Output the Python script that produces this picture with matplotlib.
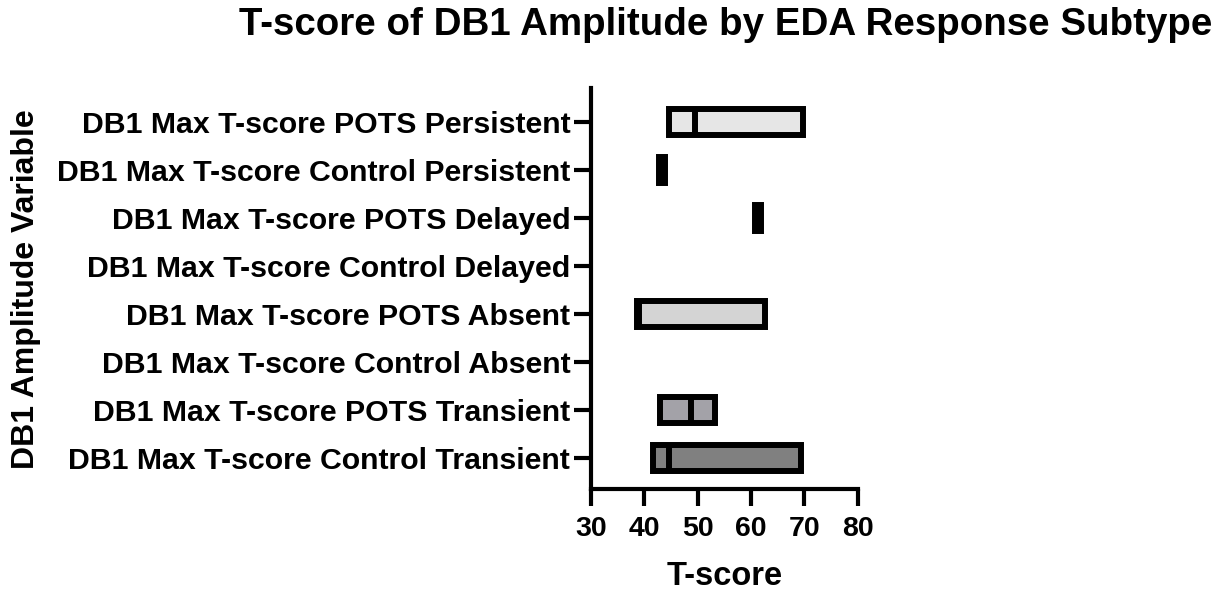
import numpy as np
import matplotlib
matplotlib.use('Agg')
from matplotlib import pyplot as plt

plt.rcParams['font.family'] = ['Liberation Sans', 'DejaVu Sans']
plt.rcParams['font.weight'] = 'bold'

# rows listed bottom to top
labels = [
    'DB1 Max T-score Control Transient',
    'DB1 Max T-score POTS Transient',
    'DB1 Max T-score Control Absent',
    'DB1 Max T-score POTS Absent',
    'DB1 Max T-score Control Delayed',
    'DB1 Max T-score POTS Delayed',
    'DB1 Max T-score Control Persistent',
    'DB1 Max T-score POTS Persistent',
]
t_min = [41.7, 42.9, np.nan, 38.7, np.nan, 60.8, 42.8, 44.7]
t_max = [69.3, 53.3, np.nan, 62.6, np.nan, 61.9, 43.9, 69.7]
t_med = [44.7, 48.8, np.nan, 39.0, np.nan, 61.3, 43.3, 49.5]
fills = ['#808080', '#a3a2a8', 'white', '#d4d4d4', 'white', '#e6e6e6', '#e6e6e6', '#e6e6e6']

fig = plt.figure(figsize=(12.24, 5.92), dpi=100)
ax = fig.add_axes([0.4829, 0.1735, 0.7007 - 0.4829, 0.8519 - 0.1735])

h = 0.54
lw = 4.3
y = np.arange(len(labels))
for i in range(len(labels)):
    if np.isnan(t_min[i]):
        continue
    ax.barh(y[i], t_max[i] - t_min[i], left=t_min[i], height=h,
            color=fills[i], edgecolor='black', linewidth=lw, clip_on=False)
    ax.plot([t_med[i], t_med[i]], [y[i] - h / 2, y[i] + h / 2],
            color='black', lw=lw, solid_capstyle='butt', clip_on=False)

ax.set_xlim(30, 80)
ax.set_ylim(-0.66, 7.71)
ax.set_xticks(np.arange(30, 81, 10))
ax.set_yticks(y)
ax.set_yticklabels(labels, fontsize=21.8)

for s in ['top', 'right']:
    ax.spines[s].set_visible(False)
for s in ['left', 'bottom']:
    ax.spines[s].set_linewidth(3)
ax.tick_params(axis='both', width=3, length=12)
ax.tick_params(axis='y', pad=3)
ax.tick_params(axis='x', pad=7, labelsize=20.5)

ax.set_xlabel('T-score', fontsize=23.5, fontweight='bold', labelpad=14)
fig.text(0.021, 0.511, 'DB1 Amplitude Variable', rotation=90, fontsize=23,
         fontweight='bold', va='center', ha='center')
fig.text(0.593, 0.957, 'T-score of DB1 Amplitude by EDA Response Subtype',
         fontsize=27.7, fontweight='bold', ha='center', va='center')

fig.savefig('out.png', dpi=100)
